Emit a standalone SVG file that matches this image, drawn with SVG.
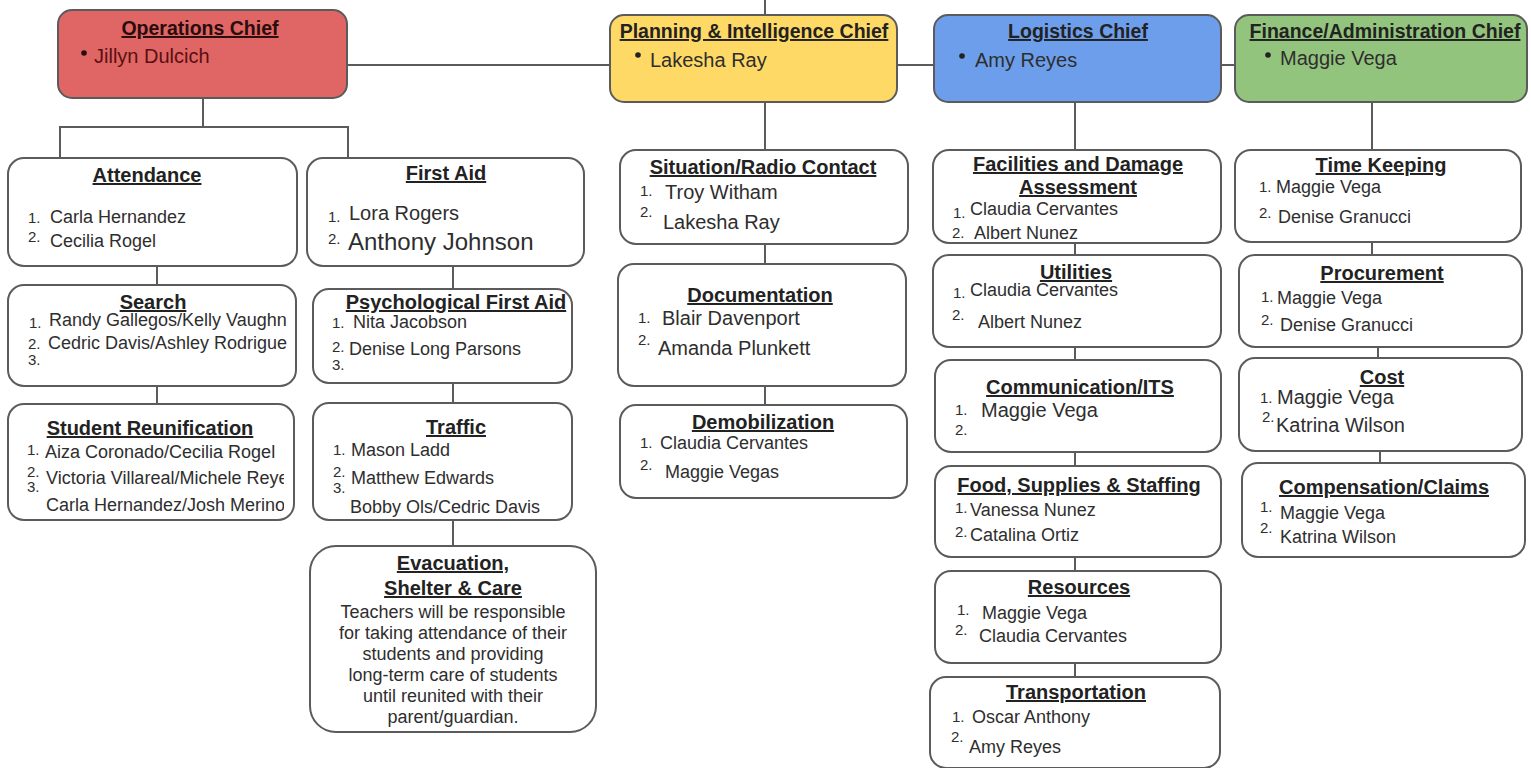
<svg xmlns="http://www.w3.org/2000/svg" width="1531" height="768" viewBox="0 0 1531 768">
<style>
.box{fill:#fff;stroke:#5b5b5b;stroke-width:2}
.chief{stroke:#5b5b5b;stroke-width:2}
.t{font-family:"Liberation Sans",Arial,sans-serif;font-weight:bold;font-size:20px;fill:#222;text-anchor:middle;text-decoration:underline}
.ct{font-family:"Liberation Sans",Arial,sans-serif;font-weight:bold;font-size:19.5px;fill:#222;text-anchor:middle;text-decoration:underline}
.i{font-family:"Liberation Sans",Arial,sans-serif;font-size:18px;fill:#2e2e2e}
.n{font-family:"Liberation Sans",Arial,sans-serif;font-size:15px;fill:#2e2e2e}
.b{font-family:"Liberation Sans",Arial,sans-serif;font-size:18px;fill:#2e2e2e;text-anchor:middle}
.big{font-size:20px}
.conn line,.conn path{stroke:#5b5b5b;stroke-width:2;fill:none}
</style>
<defs>
<clipPath id="cs"><rect x="10" y="286" width="277" height="98"/></clipPath>
<clipPath id="cr"><rect x="10" y="405" width="274" height="113"/></clipPath>
</defs>
<g class="conn">
<line x1="765" y1="0" x2="765" y2="15"/>
<line x1="347" y1="65" x2="610" y2="65"/>
<line x1="897" y1="65" x2="934" y2="65"/>
<line x1="1221" y1="65" x2="1235" y2="65"/>
<path d="M203 98 V127 M60 158 V127 H348 V158"/>
<line x1="157" y1="266" x2="157" y2="285"/>
<line x1="157" y1="386" x2="157" y2="404"/>
<line x1="453" y1="266" x2="453" y2="289"/>
<line x1="453" y1="383" x2="453" y2="403"/>
<line x1="453" y1="520" x2="453" y2="546"/>
<line x1="765" y1="102" x2="765" y2="150"/>
<line x1="765" y1="244" x2="765" y2="264"/>
<line x1="765" y1="386" x2="765" y2="405"/>
<line x1="1075" y1="102" x2="1075" y2="150"/>
<line x1="1075" y1="243" x2="1075" y2="255"/>
<line x1="1075" y1="347" x2="1075" y2="360"/>
<line x1="1075" y1="452" x2="1075" y2="466"/>
<line x1="1075" y1="557" x2="1075" y2="571"/>
<line x1="1075" y1="663" x2="1075" y2="677"/>
<line x1="1372" y1="102" x2="1372" y2="150"/>
<line x1="1372" y1="242" x2="1372" y2="255"/>
<line x1="1378" y1="347" x2="1378" y2="358"/>
<line x1="1380" y1="451" x2="1380" y2="463"/>
</g>
<g id="ops-chief">
<rect class="chief" x="58" y="10" width="289" height="88" rx="14" fill="#e06666"/>
<text class="ct" x="200" y="35" style="fill:#2a0c0c">Operations Chief</text>
<circle cx="84" cy="53" r="2.8" fill="#2a0c0c"/>
<text class="i big" x="94" y="63" style="fill:#5a1010">Jillyn Dulcich</text>
</g>
<g id="planning-chief">
<rect class="chief" x="610" y="15" width="287" height="87" rx="14" fill="#ffd966"/>
<text class="ct" x="754" y="38">Planning &amp; Intelligence Chief</text>
<circle cx="638" cy="55" r="2.8" fill="#222"/>
<text class="i big" x="650" y="67">Lakesha Ray</text>
</g>
<g id="logistics-chief">
<rect class="chief" x="934" y="15" width="287" height="87" rx="14" fill="#6d9eeb"/>
<text class="ct" x="1078" y="38">Logistics Chief</text>
<circle cx="962" cy="56" r="2.8" fill="#222"/>
<text class="i big" x="975" y="67">Amy Reyes</text>
</g>
<g id="finance-chief">
<rect class="chief" x="1235" y="15" width="292" height="87" rx="14" fill="#93c47d"/>
<text class="ct" x="1385" y="38">Finance/Administration Chief</text>
<circle cx="1268" cy="55" r="2.8" fill="#222"/>
<text class="i big" x="1280" y="65">Maggie Vega</text>
</g>
<g id="attendance">
<rect class="box" x="8" y="158" width="289" height="108" rx="16"/>
<text class="t" x="147" y="182">Attendance</text>
<text class="n" x="28" y="223">1.</text><text class="i" x="50" y="223">Carla Hernandez</text>
<text class="n" x="28" y="242">2.</text><text class="i" x="50" y="247">Cecilia Rogel</text>
</g>
<g id="search">
<rect class="box" x="8" y="285" width="288" height="101" rx="16"/>
<text class="t" x="153" y="309">Search</text>
<g clip-path="url(#cs)">
<text class="n" x="29" y="328">1.</text><text class="i" x="49" y="326">Randy Gallegos/Kelly Vaughn</text>
<text class="n" x="28" y="349">2.</text><text class="i" x="48" y="349">Cedric Davis/Ashley Rodriguez</text>
<text class="n" x="28" y="365">3.</text>
</g>
</g>
<g id="student-reunification">
<rect class="box" x="8" y="404" width="286" height="116" rx="16"/>
<text class="t" x="150" y="435">Student Reunification</text>
<g clip-path="url(#cr)">
<text class="n" x="27" y="455">1.</text><text class="i" x="45" y="458">Aiza Coronado/Cecilia Rogel</text>
<text class="n" x="27" y="477">2.</text><text class="i" x="46" y="484">Victoria Villareal/Michele Reyes</text>
<text class="n" x="27" y="492">3.</text><text class="i" x="46" y="511">Carla Hernandez/Josh Merino</text>
</g>
</g>
<g id="first-aid">
<rect class="box" x="307" y="158" width="277" height="108" rx="16"/>
<text class="t" x="446" y="180">First Aid</text>
<text class="n" x="328" y="222">1.</text><text class="i big" x="349" y="220">Lora Rogers</text>
<text class="n" x="328" y="244">2.</text><text class="i" style="font-size:24px" x="348" y="250">Anthony Johnson</text>
</g>
<g id="psych-first-aid">
<rect class="box" x="313" y="289" width="259" height="94" rx="16"/>
<text class="t" x="456" y="309">Psychological First Aid</text>
<text class="n" x="332" y="328">1.</text><text class="i" x="353" y="328">Nita Jacobson</text>
<text class="n" x="332" y="352">2.</text><text class="i" x="349" y="355">Denise Long Parsons</text>
<text class="n" x="332" y="370">3.</text>
</g>
<g id="traffic">
<rect class="box" x="313" y="403" width="259" height="117" rx="16"/>
<text class="t" x="456" y="434">Traffic</text>
<text class="n" x="333" y="455">1.</text><text class="i" x="351" y="456">Mason Ladd</text>
<text class="n" x="333" y="477">2.</text><text class="i" x="351" y="484">Matthew Edwards</text>
<text class="n" x="333" y="493">3.</text><text class="i" x="350" y="513">Bobby Ols/Cedric Davis</text>
</g>
<g id="evacuation">
<rect class="box" x="310" y="546" width="286" height="186" rx="26"/>
<text class="t" x="453" y="570">Evacuation,</text>
<text class="t" x="453" y="595">Shelter &amp; Care</text>
<text class="b" x="453" y="618">Teachers will be responsible</text>
<text class="b" x="453" y="639">for taking attendance of their</text>
<text class="b" x="453" y="660">students and providing</text>
<text class="b" x="453" y="681">long-term care of students</text>
<text class="b" x="453" y="702">until reunited with their</text>
<text class="b" x="453" y="723">parent/guardian.</text>
</g>
<g id="situation">
<rect class="box" x="620" y="150" width="288" height="94" rx="16"/>
<text class="t" x="763" y="174">Situation/Radio Contact</text>
<text class="n" x="640" y="196">1.</text><text class="i big" x="665" y="199">Troy Witham</text>
<text class="n" x="640" y="217">2.</text><text class="i big" x="663" y="229">Lakesha Ray</text>
</g>
<g id="documentation">
<rect class="box" x="618" y="264" width="288" height="122" rx="16"/>
<text class="t" x="760" y="302">Documentation</text>
<text class="n" x="638" y="323">1.</text><text class="i big" x="662" y="325">Blair Davenport</text>
<text class="n" x="638" y="345">2.</text><text class="i big" x="658" y="355">Amanda Plunkett</text>
</g>
<g id="demobilization">
<rect class="box" x="620" y="405" width="287" height="93" rx="16"/>
<text class="t" x="763" y="429">Demobilization</text>
<text class="n" x="640" y="448">1.</text><text class="i" x="660" y="449">Claudia Cervantes</text>
<text class="n" x="640" y="470">2.</text><text class="i" x="665" y="478">Maggie Vegas</text>
</g>
<g id="facilities">
<rect class="box" x="933" y="150" width="288" height="93" rx="16"/>
<text class="t" x="1078" y="171">Facilities and Damage</text>
<text class="t" x="1078" y="194">Assessment</text>
<text class="n" x="953" y="218">1.</text><text class="i" x="970" y="215">Claudia Cervantes</text>
<text class="n" x="952" y="238">2.</text><text class="i" x="974" y="239">Albert Nunez</text>
</g>
<g id="utilities">
<rect class="box" x="933" y="255" width="288" height="92" rx="16"/>
<text class="t" x="1076" y="279">Utilities</text>
<text class="n" x="953" y="298">1.</text><text class="i" x="970" y="296">Claudia Cervantes</text>
<text class="n" x="952" y="320">2.</text><text class="i" x="978" y="328">Albert Nunez</text>
</g>
<g id="communication">
<rect class="box" x="935" y="360" width="286" height="92" rx="16"/>
<text class="t" x="1080" y="394">Communication/ITS</text>
<text class="n" x="955" y="415">1.</text><text class="i big" x="981" y="417">Maggie Vega</text>
<text class="n" x="955" y="435">2.</text>
</g>
<g id="food">
<rect class="box" x="935" y="466" width="286" height="91" rx="16"/>
<text class="t" x="1079" y="492">Food, Supplies &amp; Staffing</text>
<text class="n" x="955" y="513">1.</text><text class="i" x="970" y="516">Vanessa Nunez</text>
<text class="n" x="955" y="537">2.</text><text class="i" x="970" y="541">Catalina Ortiz</text>
</g>
<g id="resources">
<rect class="box" x="935" y="571" width="286" height="92" rx="16"/>
<text class="t" x="1079" y="594">Resources</text>
<text class="n" x="957" y="615">1.</text><text class="i" x="982" y="619">Maggie Vega</text>
<text class="n" x="955" y="635">2.</text><text class="i" x="979" y="642">Claudia Cervantes</text>
</g>
<g id="transportation">
<rect class="box" x="930" y="677" width="290" height="91" rx="16"/>
<text class="t" x="1076" y="699">Transportation</text>
<text class="n" x="952" y="722">1.</text><text class="i" x="972" y="723">Oscar Anthony</text>
<text class="n" x="951" y="742">2.</text><text class="i" x="969" y="753">Amy Reyes</text>
</g>
<g id="time-keeping">
<rect class="box" x="1235" y="150" width="286" height="92" rx="16"/>
<text class="t" x="1381" y="172">Time Keeping</text>
<text class="n" x="1259" y="192">1.</text><text class="i" x="1276" y="193">Maggie Vega</text>
<text class="n" x="1259" y="218">2.</text><text class="i" x="1278" y="223">Denise Granucci</text>
</g>
<g id="procurement">
<rect class="box" x="1239" y="255" width="283" height="92" rx="16"/>
<text class="t" x="1382" y="280">Procurement</text>
<text class="n" x="1261" y="302">1.</text><text class="i" x="1277" y="304">Maggie Vega</text>
<text class="n" x="1261" y="325">2.</text><text class="i" x="1280" y="331">Denise Granucci</text>
</g>
<g id="cost">
<rect class="box" x="1239" y="358" width="283" height="93" rx="16"/>
<text class="t" x="1382" y="384">Cost</text>
<text class="n" x="1260" y="403">1.</text><text class="i big" x="1277" y="404">Maggie Vega</text>
<text class="n" x="1262" y="422">2.</text><text class="i big" x="1276" y="432">Katrina Wilson</text>
</g>
<g id="compensation">
<rect class="box" x="1242" y="463" width="283" height="94" rx="16"/>
<text class="t" x="1384" y="494">Compensation/Claims</text>
<text class="n" x="1260" y="512">1.</text><text class="i" x="1280" y="519">Maggie Vega</text>
<text class="n" x="1260" y="533">2.</text><text class="i" x="1280" y="543">Katrina Wilson</text>
</g>
</svg>
